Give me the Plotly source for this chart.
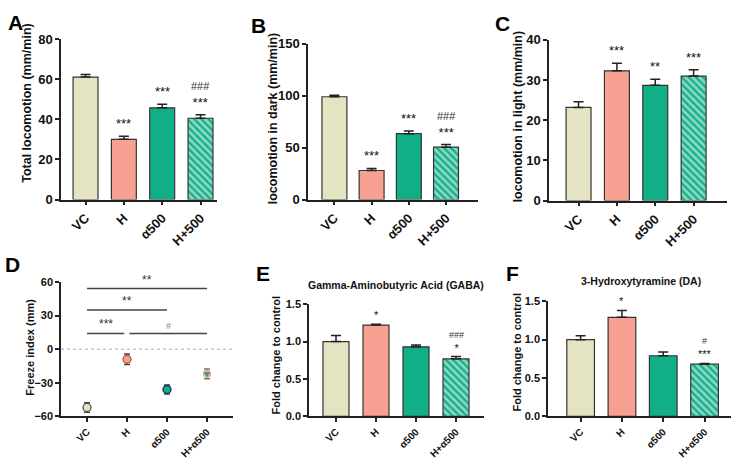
import plotly.graph_objects as go

W, H = 738, 467

groups_abc = ["VC", "H", "α500", "H+500"]
groups_def = ["VC", "H", "α500", "H+α500"]

total_loc = [61.0, 30.0, 45.7, 40.5]
total_loc_sem = [1.3, 1.5, 1.8, 1.7]
total_sig = ["", "***", "***", "***"]
total_hash = ["", "", "", "###"]

dark_loc = [99.0, 28.0, 63.5, 50.5]
dark_loc_sem = [1.5, 2.0, 2.5, 2.5]
dark_sig = ["", "***", "***", "***"]
dark_hash = ["", "", "", "###"]

light_loc = [23.2, 32.3, 28.7, 31.0]
light_loc_sem = [1.4, 1.9, 1.5, 1.6]
light_sig = ["", "***", "**", "***"]
light_hash = ["", "", "", ""]

freeze = [-52.0, -9.0, -36.0, -22.0]
freeze_sem = [4.3, 4.6, 4.0, 4.3]

gaba = [1.0, 1.22, 0.93, 0.77]
gaba_sem = [0.08, 0.01, 0.025, 0.03]
gaba_sig = ["", "*", "", "*"]
gaba_hash = ["", "", "", "###"]

da = [1.0, 1.29, 0.79, 0.68]
da_sem = [0.05, 0.09, 0.05, 0.01]
da_sig = ["", "*", "", "***"]
da_hash = ["", "", "", "#"]

# significance brackets in D: (x start, x end, y, label, color)
freeze_brackets = [
    (0.0, 3.0, 54, "**", "#333"),
    (0.0, 2.0, 35, "**", "#333"),
    (0.0, 0.93, 14, "***", "#333"),
    (1.06, 3.0, 14, "#", "#888"),
]

CREAM = "#E4E4C3"
SALMON = "#F8A192"
TEAL = "#12AE88"
colors = [CREAM, SALMON, TEAL, TEAL]
FONT = "Arial, Liberation Sans, sans-serif"


def fx(px):
    return px / W


def fy(py):
    return 1 - py / H


panels = [
    dict(x=(61, 217), y=(33, 199), yr=(0, 80), dt=20, xr=(-0.64, 3.43), labels=groups_abc, big=True),
    dict(x=(308, 478), y=(38, 199), yr=(0, 150), dt=50, xr=(-0.71, 3.86), labels=groups_abc, big=True),
    dict(x=(549, 727), y=(34, 200), yr=(0, 40), dt=10, xr=(-0.77, 3.87), labels=groups_abc, big=True),
    dict(x=(61, 233), y=(284, 423), yr=(-60, 60), dt=30, xr=(-0.65, 3.65), labels=groups_def, big=False),
    dict(x=(309, 484), y=(307, 423), yr=(0, 1.5), dt=0.5, xr=(-0.675, 3.7), labels=groups_def, big=False),
    dict(x=(548, 731), y=(304, 423), yr=(0, 1.5), dt=0.5, xr=(-0.79, 3.64), labels=groups_def, big=False),
]

fig = go.Figure()
layout = dict(
    width=W, height=H, margin=dict(l=0, r=0, t=0, b=0),
    paper_bgcolor="white", plot_bgcolor="white", showlegend=False,
    font=dict(family=FONT, color="#111"),
    annotations=[], shapes=[],
)

for i, p in enumerate(panels):
    n = "" if i == 0 else str(i + 1)
    big = p["big"]
    layout["xaxis" + n] = dict(
        domain=[fx(p["x"][0]), fx(p["x"][1])], anchor="y" + n,
        range=list(p["xr"]), tickmode="array", tickvals=[0, 1, 2, 3], ticktext=p["labels"],
        tickangle=-45, showline=True, linecolor="#222", linewidth=1.5,
        ticks="outside", ticklen=4, tickwidth=1.5, tickcolor="#222",
        showgrid=False, zeroline=False,
        tickfont=dict(size=13 if big else 10, family=FONT, weight="bold", color="#111"),
    )
    layout["yaxis" + n] = dict(
        domain=[fy(p["y"][1]), fy(p["y"][0])], anchor="x" + n,
        range=list(p["yr"]), dtick=p["dt"], tick0=p["yr"][0],
        showline=True, linecolor="#222", linewidth=1.5,
        ticks="outside", ticklen=4, tickwidth=1.5, tickcolor="#222",
        showgrid=False, zeroline=False,
        tickformat=".1f" if p["dt"] == 0.5 else "d",
        tickfont=dict(size=13 if big else 11, family=FONT, weight="bold", color="#111"),
    )


def add_bars(idx, vals, sems, width, sig, hsh, sfont, shift):
    n = "" if idx == 0 else str(idx + 1)
    fig.add_trace(go.Bar(
        x=[0, 1, 2, 3], y=vals, width=width, xaxis="x" + n, yaxis="y" + n,
        marker=dict(color=colors, line=dict(color="#333", width=1.2),
                    pattern=dict(shape=["", "", "", "\\"], fgcolor=SALMON, fillmode="overlay",
                                 size=5, solidity=0.55)),
        error_y=dict(type="data", symmetric=False, array=sems, arrayminus=[0, 0, 0, 0],
                     color="#222", thickness=1.5, width=5),
    ))
    for k in range(4):
        top = vals[k] + sems[k]
        if not sig[k]:
            continue
        txt = sig[k]
        if hsh[k]:
            txt = f"<span style='font-size:{sfont - 2}px;color:#333'>{hsh[k]}</span><br>{sig[k]}"
        layout["annotations"].append(dict(
            x=k, y=top, xref="x" + n, yref="y" + n, text=txt, showarrow=False,
            yanchor="bottom", yshift=shift, font=dict(size=sfont, family=FONT, color="#111")))


add_bars(0, total_loc, total_loc_sem, 0.65, total_sig, total_hash, 13, 3)
add_bars(1, dark_loc, dark_loc_sem, 0.67, dark_sig, dark_hash, 13, 3)
add_bars(2, light_loc, light_loc_sem, 0.65, light_sig, light_hash, 13, 3)
add_bars(4, gaba, gaba_sem, 0.65, gaba_sig, gaba_hash, 11, 1)
add_bars(5, da, da_sem, 0.67, da_sig, da_hash, 11, 1)

# Panel D: freeze index dot plot
fig.add_trace(go.Scatter(
    x=[0, 1, 2], y=freeze[:3], xaxis="x4", yaxis="y4", mode="markers",
    marker=dict(size=8, color=[CREAM, SALMON, TEAL], line=dict(color=["#555", "#B0584A", "#135"], width=1.3)),
    error_y=dict(type="data", array=freeze_sem[:3], color="#444", thickness=1.5, width=3),
))
fig.add_trace(go.Scatter(
    x=[3], y=[freeze[3]], xaxis="x4", yaxis="y4", mode="markers",
    marker=dict(size=8, color=SALMON, line=dict(width=0)),
    error_y=dict(type="data", array=[freeze_sem[3]], color="#777", thickness=1.5, width=3),
))
fig.add_trace(go.Scatter(
    x=[3], y=[freeze[3]], xaxis="x4", yaxis="y4", mode="markers",
    marker=dict(size=6, color=TEAL, symbol="triangle-down", line=dict(width=0)),
))
layout["shapes"].append(dict(type="line", xref="x4 domain", yref="y4", x0=0, x1=1, y0=0, y1=0,
                             line=dict(color="#aaa", width=1, dash="dot")))
for (a, b, yv, lab, col) in freeze_brackets:
    layout["shapes"].append(dict(type="line", xref="x4", yref="y4", x0=a, x1=b, y0=yv, y1=yv,
                                 line=dict(color="#444", width=1.5)))
    layout["annotations"].append(dict(x=(a + b) / 2, y=yv, xref="x4", yref="y4", text=lab,
                                      showarrow=False, yanchor="bottom", yshift=0,
                                      font=dict(size=12 if lab != "#" else 9, family=FONT, color=col)))

# Y-axis titles
ytitles = [
    ("Total locomotion (mm/min)", 27, 100, 12.5),
    ("locomotion in dark (mm/min)", 273, 115, 12.5),
    ("locomotion in light (mm/min)", 518, 113, 12.5),
    ("Freeze index (mm)", 30, 352, 11),
    ("Fold change to control", 276, 360, 11),
    ("Fold change to control", 517, 357, 11),
]
for t, x, y, s in ytitles:
    layout["annotations"].append(dict(x=fx(x), y=fy(y), xref="paper", yref="paper", text=t,
                                      textangle=-90, showarrow=False, xanchor="center", yanchor="middle",
                                      font=dict(size=s, family=FONT, weight="bold", color="#111")))

# Panel titles
for t, x, y in [("Gamma-Aminobutyric Acid (GABA)", 396, 287), ("3-Hydroxytyramine (DA)", 641, 283)]:
    layout["annotations"].append(dict(x=fx(x), y=fy(y), xref="paper", yref="paper", text=t,
                                      showarrow=False, xanchor="center", yanchor="middle",
                                      font=dict(size=10.5, family=FONT, weight="bold", color="#111")))

# Panel letters
for t, x, y in [("A", 15, 16), ("B", 258, 19), ("C", 502, 17), ("D", 13, 266), ("E", 263, 275), ("F", 512, 275)]:
    layout["annotations"].append(dict(x=fx(x), y=fy(y), xref="paper", yref="paper", text=t,
                                      showarrow=False, xanchor="center", yanchor="middle",
                                      font=dict(size=21, family=FONT, weight="bold", color="#000")))

fig.update_layout(**layout)
fig.write_html("out.html")
